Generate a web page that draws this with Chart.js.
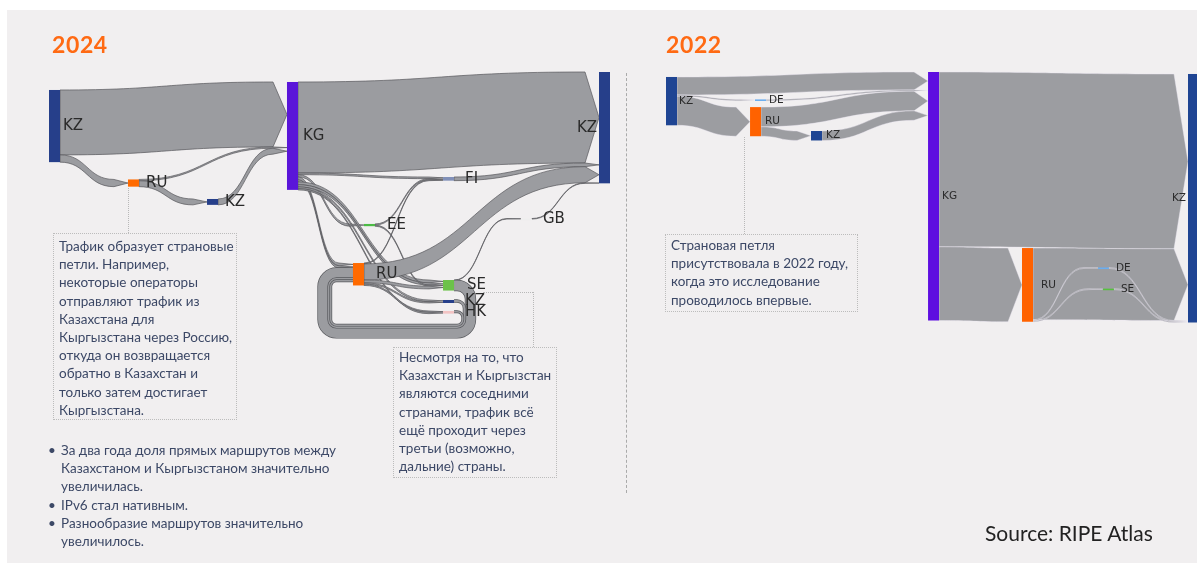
<!DOCTYPE html>
<html>
<head>
<meta charset="utf-8">
<script src="https://cdn.jsdelivr.net/npm/chart.js@4.4.1/dist/chart.umd.min.js"></script>
<style>
  html, body { margin: 0; padding: 0; background: #fff; }
  #page { position: relative; width: 1197px; height: 565px; overflow: hidden; font-family: Lato, "Open Sans", sans-serif; }
  .panel { position: absolute; left: 7px; top: 10px; width: 1190px; height: 553px; background: #f1eff0; }
  canvas { position: absolute; left: 0; top: 0; }
  .year { position: absolute; top: 30px; font-weight: 700; font-size: 23px; color: #ff6a13; letter-spacing: 0.6px; }
  .note { position: absolute; box-sizing: border-box; border: 1px dotted #bcbcbc; font-size: 13.5px; line-height: 18.2px; color: #3c4866; white-space: nowrap; }
  .vline { position: absolute; width: 0; border-left: 1px dotted #b8b8b8; }
  .hline { position: absolute; height: 0; border-top: 1px dotted #b8b8b8; }
  .divider { position: absolute; left: 626px; top: 73px; height: 420px; width: 0; border-left: 1.5px dashed #aaaaaa; }
  .bullets { position: absolute; left: 61px; top: 441px; font-size: 13.5px; line-height: 18.2px; color: #3c4866; white-space: nowrap; }
  .bullets .b { position: relative; }
  .bullets .b::before { content: "\2022"; position: absolute; left: -13px; }
  .source { position: absolute; left: 985px; top: 520px; font-size: 21px; color: #222; }
  .text { position: absolute; z-index: 2; }
</style>
</head>
<body>
<div id="page">
  <div class="panel"></div>
  <canvas id="sankey2024" width="1197" height="565"></canvas>
  <canvas id="sankey2022" width="1197" height="565"></canvas>

  <div class="text year" style="left:52px">2024</div>
  <div class="text year" style="left:666px">2022</div>

  <div class="text vline" style="left:128px; top:188px; height:45px"></div>
  <div class="text note" style="left:53px; top:233px; width:184px; height:187px; padding:3px 0 0 5px">
    Трафик образует страновые<br>петли. Например,<br>некоторые операторы<br>отправляют трафик из<br>Казахстана для<br>Кыргызстана через Россию,<br>откуда он возвращается<br>обратно в Казахстан и<br>только затем достигает<br>Кыргызстана.
  </div>

  <div class="text hline" style="left:483px; top:292px; width:50px"></div>
  <div class="text vline" style="left:533px; top:292px; height:55px"></div>
  <div class="text note" style="left:393px; top:347px; width:164px; height:131px; padding:0 0 0 5px">
    Несмотря на то, что<br>Казахстан и Кыргызстан<br>являются соседними<br>странами, трафик всё<br>ещё проходит через<br>третьи (возможно,<br>дальние) страны.
  </div>

  <div class="text bullets">
    <div class="b">За два года доля прямых маршрутов между</div>
    <div>Казахстаном и Кыргызстаном значительно</div>
    <div>увеличилась.</div>
    <div class="b">IPv6 стал нативным.</div>
    <div class="b">Разнообразие маршрутов значительно</div>
    <div>увеличилось.</div>
  </div>

  <div class="text divider"></div>

  <div class="text vline" style="left:744px; top:137px; height:97px"></div>
  <div class="text note" style="left:665px; top:234px; width:193px; height:78px; padding:1px 0 0 5px">
    Страновая петля<br>присутствовала в 2022 году,<br>когда это исследование<br>проводилось впервые.
  </div>

  <div class="text source">Source: RIPE Atlas</div>
</div>

<script>
// ---------- 2024 ----------
const nodes2024 = ['KZ', 'RU', 'KZ', 'KG', 'FI', 'EE', 'GB', 'RU', 'SE', 'KZ', 'HK', 'KZ'];
const source2024 = [0, 0, 1, 1, 2, 3, 3, 3, 3, 3, 3, 3, 3, 3, 5, 5, 7, 4, 7, 7, 7, 7, 8, 6, 8, 9, 10];
const target2024 = [3, 1, 3, 2, 3, 11, 4, 5, 7, 7, 8, 8, 9, 10, 4, 8, 4, 11, 11, 8, 9, 10, 6, 11, 7, 7, 7];
const value2024 = [58.5, 6.5, 1.2, 5.3, 5.3, 82, 1.5, 2, 2.5, 2, 2.5, 2, 1.5, 1.2, 1, 1, 0.8, 3.3, 14.5, 2.5, 1.2, 1.2, 0.5, 0.5, 9, 1.8, 1.3];

// node placement (x as fraction of the width, y as top in value units)
const nodeX2024 = [0, 0.1436, 0.2873, 0.4327, 0.7164, 0.5727, 0.858, 0.5527, 0.7164, 0.7164, 0.7164, 1];
const nodeY2024 = [17.1, 97.7, 115.3, 9.9, 95.5, 137.8, 132.9, 173, 188.3, 206.3, 216.2, 0.9];
const labelDx2024 = [3, 7, 7, 5, 11, 12, 11, 12, 13, 11, 11, -2];
const colors2024 = ['#263f8a', '#ff6a00', '#263f8a', '#5a15d9', '#8190b8', '#4cbb45', '#eeeeee', '#ff6a00', '#6cc24a', '#263f8a', '#f3c4c4', '#263f8a'];

// ---------- 2022 ----------
const nodes2022 = ['KZ', 'DE', 'RU', 'KZ', 'KG', 'RU', 'DE', 'SE', 'KZ'];
const source2022 = [0, 0, 0, 1, 2, 2, 3, 4, 4, 5, 5, 5, 6, 7];
const target2022 = [4, 1, 2, 4, 4, 3, 4, 8, 5, 8, 6, 7, 8, 8];
const value2022 = [7.2, 0.5, 11.7, 0.5, 7.9, 3.8, 3.8, 70.2, 29.6, 28.8, 0.4, 0.4, 0.4, 0.4];

const nodeX2022 = [0, 0.1705, 0.161, 0.2778, 0.502, 0.682, 0.8276, 0.837, 1];
const nodeY2022 = [2.0, 11.0, 14.1, 23.7, 0, 70.7, 78.5, 87, 0.8];
const labelDx2022 = [2, 3, 4, 4, 3, 8, 7, 7, -2];
const colors2022 = ['#1f4593', '#6aaef0', '#ff6200', '#1f4593', '#5e0ee0', '#ff6200', '#6aaef0', '#56c13e', '#1f4593'];

const NODE_W = 11;
const ARROW = 14;

function makeSankey(id, d) {
  const plugin = {
    id: 'sankey_' + id,
    afterDraw(chart) {
      const ctx = chart.ctx, xs = chart.scales.x, ys = chart.scales.y;
      const k = Math.abs(ys.getPixelForValue(1) - ys.getPixelForValue(0));
      const n = d.names.length;
      const inSum = new Array(n).fill(0), outSum = new Array(n).fill(0);
      d.source.forEach((s, i) => { outSum[s] += d.value[i]; inSum[d.target[i]] += d.value[i]; });

      const nd = d.names.map((name, i) => {
        const x0 = xs.getPixelForValue(d.x[i]);
        const y0 = ys.getPixelForValue(d.y[i]);
        const h = Math.max(inSum[i], outSum[i]) * k;
        return { x0, x1: x0 + NODE_W, y0, y1: y0 + Math.max(h, 1.6), outY: y0, inY: y0 };
      });

      const links = d.source.map((s, i) => {
        const t = d.target[i], w = d.value[i] * k;
        const l = { s, t, w, s0: nd[s].outY, t0: nd[t].inY, circular: d.x[t] <= d.x[s] };
        nd[s].outY += w;
        nd[t].inY += w;
        return l;
      });

      // links going back to the left loop round underneath
      const circ = links.filter(l => l.circular);
      if (circ.length) {
        const right = Math.max(...circ.map(l => nd[l.s].x1)) + d.loop.right;
        const left = Math.min(...circ.map(l => nd[l.t].x0)) - d.loop.left;
        const bottom = Math.max(...circ.flatMap(l => [nd[l.s].y1, nd[l.t].y1])) + d.loop.bottom;
        let cum = 0;
        for (let i = circ.length - 1; i >= 0; i--) {
          const l = circ[i];
          const off = cum + l.w / 2;
          l.rx = right + off;
          l.lx = left - off;
          l.by = bottom + off;
          l.r = d.loop.radius + off;
          cum += l.w;
        }
      }

      ctx.save();
      ctx.lineJoin = 'round';
      links.forEach(l => {
        const S = nd[l.s], T = nd[l.t];
        if (l.circular) {
          const sy = l.s0 + l.w / 2, ty = l.t0 + l.w / 2;
          ctx.beginPath();
          ctx.moveTo(S.x1, sy);
          ctx.arcTo(l.rx, sy, l.rx, l.by, l.r);
          ctx.arcTo(l.rx, l.by, l.lx, l.by, l.r);
          ctx.arcTo(l.lx, l.by, l.lx, ty, l.r);
          ctx.arcTo(l.lx, ty, T.x0, ty, l.r);
          ctx.lineTo(T.x0, ty);
          ctx.lineWidth = l.w + 2 * d.lineWidth;
          ctx.strokeStyle = d.lineColor;
          ctx.stroke();
          ctx.lineWidth = l.w;
          ctx.strokeStyle = d.linkColor;
          ctx.stroke();
        } else {
          const sx = S.x1, tx = T.x0, ex = tx - ARROW, xm = (sx + ex) / 2;
          const s1 = l.s0 + l.w, t1 = l.t0 + l.w;
          ctx.beginPath();
          ctx.moveTo(sx, l.s0);
          ctx.bezierCurveTo(xm, l.s0, xm, l.t0, ex, l.t0);
          ctx.lineTo(tx, l.t0 + l.w / 2);
          ctx.lineTo(ex, t1);
          ctx.bezierCurveTo(xm, t1, xm, s1, sx, s1);
          ctx.closePath();
          ctx.fillStyle = d.linkColor;
          ctx.fill();
          ctx.lineWidth = d.lineWidth;
          ctx.strokeStyle = d.lineColor;
          ctx.stroke();
        }
      });

      nd.forEach((p, i) => {
        ctx.fillStyle = d.colors[i];
        ctx.fillRect(p.x0, p.y0, NODE_W, p.y1 - p.y0);
      });

      ctx.font = d.font;
      ctx.fillStyle = '#2a2a2a';
      ctx.textBaseline = 'middle';
      nd.forEach((p, i) => {
        const dx = d.labelDx[i];
        ctx.textAlign = dx >= 0 ? 'left' : 'right';
        ctx.fillText(d.names[i], dx >= 0 ? p.x1 + dx : p.x0 + dx, (p.y0 + p.y1) / 2);
      });
      ctx.restore();
    }
  };

  return new Chart(document.getElementById(id), {
    type: 'scatter',
    data: { datasets: [] },
    options: {
      responsive: false,
      animation: false,
      layout: { padding: d.padding },
      plugins: { legend: { display: false }, tooltip: { enabled: false } },
      scales: {
        x: { type: 'linear', min: 0, max: 1, display: false },
        y: { type: 'linear', min: 0, max: d.yMax, reverse: true, display: false }
      }
    },
    plugins: [plugin]
  });
}

makeSankey('sankey2024', {
  names: nodes2024, source: source2024, target: target2024, value: value2024,
  x: nodeX2024, y: nodeY2024, labelDx: labelDx2024, colors: colors2024,
  yMax: 240,
  padding: { left: 49, right: 598, top: 71, bottom: 227.6 },
  linkColor: '#9b9ca0', lineColor: '#57585c', lineWidth: 0.7,
  font: '15px "DejaVu Sans"',
  loop: { right: 8, left: 21.5, bottom: 10.8, radius: 5 }
});

makeSankey('sankey2022', {
  names: nodes2022, source: source2022, target: target2022, value: value2022,
  x: nodeX2022, y: nodeY2022, labelDx: labelDx2022, colors: colors2022,
  yMax: 100,
  padding: { left: 666, right: 9, top: 72, bottom: 244 },
  linkColor: '#9c9da1', lineColor: 'rgba(236,232,244,0.85)', lineWidth: 0.5,
  font: '10.5px "DejaVu Sans"',
  loop: { right: 8, left: 20, bottom: 10, radius: 4 }
});
</script>
</body>
</html>
